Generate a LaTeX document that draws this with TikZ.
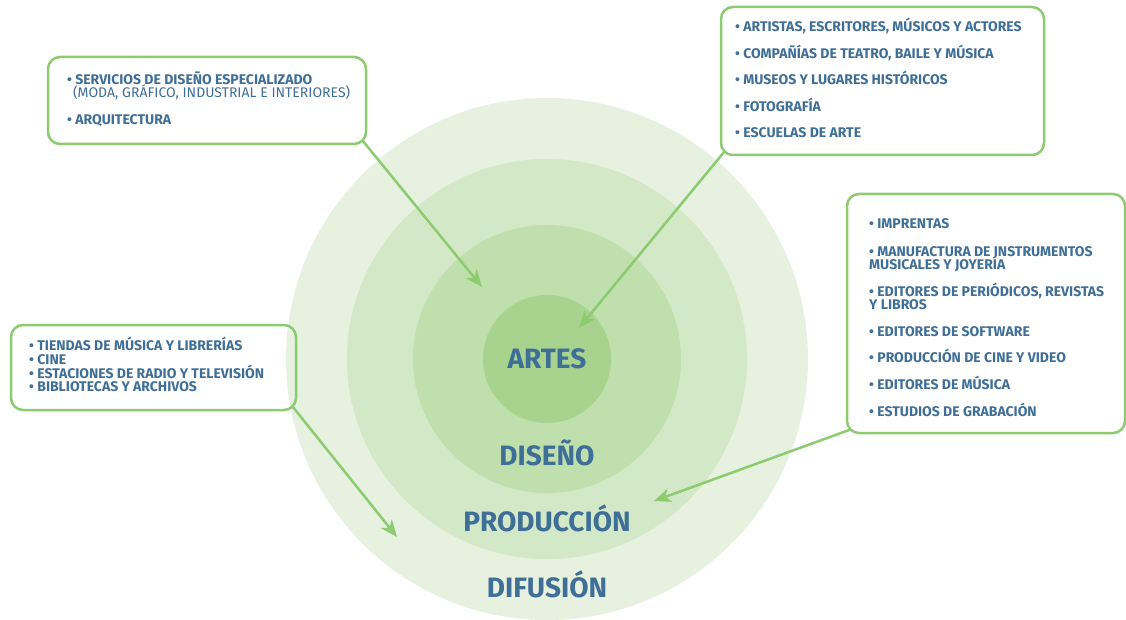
\documentclass[tikz,border=0pt]{standalone}
\usepackage{fontspec}
\setmainfont{Fira Sans}
\usetikzlibrary{arrows.meta,calc}
\definecolor{tb}{HTML}{3F6E97}
\definecolor{lg}{HTML}{8DCB71}
\definecolor{ca}{HTML}{E6F1DF}
\definecolor{cb}{HTML}{D3E8C7}
\definecolor{cc}{HTML}{BFDFAD}
\definecolor{cd}{HTML}{A8D38F}
\tikzset{
  boxst/.style={draw=lg, line width=2.5pt, rounded corners=12pt, inner sep=0pt, outer sep=0pt, anchor=north west},
  itemst/.style={anchor=base west, inner sep=0pt, text=tb, font=\fontsize{14}{15}\selectfont\bfseries},
  subst/.style={anchor=base west, inner sep=0pt, text=tb, font=\fontsize{14}{15}\selectfont},
  bigst/.style={anchor=base, inner sep=0pt, text=tb, font=\fontsize{28}{30}\selectfont\bfseries},
  arr/.style={draw=lg, line width=2.5pt, -{Stealth[length=17pt,width=14pt,inset=5pt]}}
}
\begin{document}
\begin{tikzpicture}[x=1pt,y=-1pt]
\useasboundingbox (0,0) rectangle (1126,620);
% circles
\fill[ca] (547,359) circle[radius=261];
\fill[cb] (547,359) circle[radius=200];
\fill[cc] (547,359) circle[radius=134];
\fill[cd] (547,359) circle[radius=64];
% labels
\node[bigst] (artes) at (547,368.3) {ARTES};
\node[bigst] (diseno) at (547,465.7) {DISEÑO};
\node[bigst] (produccion) at (547,531.7) {PRODUCCIÓN};
\node[bigst] (difusion) at (547,597.7) {DIFUSIÓN};
% boxes
\node[boxst, minimum width=318pt, minimum height=87pt] (b1) at (48,57) {};
\node[boxst, minimum width=323pt, minimum height=148pt] (b2) at (721,7) {};
\node[boxst, minimum width=278pt, minimum height=239pt] (b3) at (847,194) {};
\node[boxst, minimum width=285pt, minimum height=85pt] (b4) at (11,325) {};
% box 1 text
\node[itemst] (t1a) at (67,85) {• SERVICIOS DE DISEÑO ESPECIALIZADO};
\node[subst] (t1b) at (73,97.3) {(MODA, GRÁFICO, INDUSTRIAL E INTERIORES)};
\node[itemst] (t1c) at (67,125) {• ARQUITECTURA};
% box 2 text
\node[itemst] (t2a) at (735,32) {• ARTISTAS, ESCRITORES, MÚSICOS Y ACTORES};
\node[itemst] (t2b) at (735,58.3) {• COMPAÑÍAS DE TEATRO, BAILE Y MÚSICA};
\node[itemst] (t2c) at (735,85) {• MUSEOS Y LUGARES HISTÓRICOS};
\node[itemst] (t2d) at (735,111.5) {• FOTOGRAFÍA};
\node[itemst] (t2e) at (735,137.5) {• ESCUELAS DE ARTE};
% box 3 text
\node[itemst] (t3a) at (869,229) {• IMPRENTAS};
\node[itemst] (t3b) at (869,256.7) {• MANUFACTURA DE INSTRUMENTOS};
\node[itemst] (t3c) at (869,269.3) {MUSICALES Y JOYERÍA};
\node[itemst] (t3d) at (869,296.7) {• EDITORES DE PERIÓDICOS, REVISTAS};
\node[itemst] (t3e) at (869,309.3) {Y LIBROS};
\node[itemst] (t3f) at (869,336) {• EDITORES DE SOFTWARE};
\node[itemst] (t3g) at (869,362.7) {• PRODUCCIÓN DE CINE Y VIDEO};
\node[itemst] (t3h) at (869,389.3) {• EDITORES DE MÚSICA};
\node[itemst] (t3i) at (869,416) {• ESTUDIOS DE GRABACIÓN};
% box 4 text
\node[itemst] (t4a) at (29,350.7) {• TIENDAS DE MÚSICA Y LIBRERÍAS};
\node[itemst] (t4b) at (29,364.3) {• CINE};
\node[itemst] (t4c) at (29,378) {• ESTACIONES DE RADIO Y TELEVISIÓN};
\node[itemst] (t4d) at (29,391) {• BIBLIOTECAS Y ARCHIVOS};
% arrow tips
\coordinate (p1) at (482,287);
\coordinate (p2) at (579,328);
\coordinate (p3) at (654,501);
\coordinate (p4) at (397,537);
% arrows
\draw[arr] ($(b1.south east)+(-3.5pt,3.5pt)$) -- (p1);
\draw[arr] ($(b2.south west)+(3.5pt,3.5pt)$) -- (p2);
\draw[arr] ($(b3.south west)+(3.5pt,3.5pt)$) -- (p3);
\draw[arr] ($(b4.south east)+(-3.5pt,3.5pt)$) -- (p4);
\end{tikzpicture}
\end{document}
